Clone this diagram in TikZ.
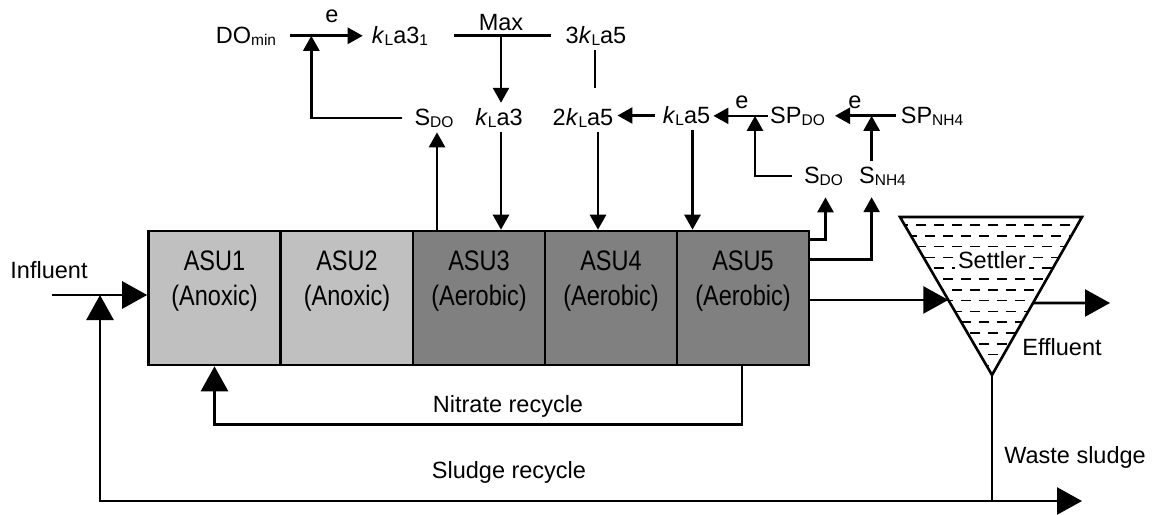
\documentclass[tikz,border=0pt]{standalone}
\usepackage{fontspec}
\setmainfont{Liberation Sans}
\usetikzlibrary{arrows.meta,calc}
\newcommand{\subtx}[1]{\raisebox{-2pt}{\fontsize{15.5}{16}\selectfont #1}}
\newcommand{\kla}{\textit{k}\subtx{L}a}
\newcommand{\tall}[1]{\scalebox{1}[1.2]{#1}}
\definecolor{anox}{HTML}{C0C0C0}
\definecolor{aero}{HTML}{808080}
\begin{document}
\begin{tikzpicture}[x=1pt,y=-1pt,
  every node/.style={font=\fontsize{23.5}{28}\selectfont, inner xsep=2pt, inner ysep=5pt},
  txt/.style={anchor=base},
  ln/.style={line width=2.6pt},
  sa/.style={ln,-{Triangle[length=15pt,width=16pt]}},
  ba/.style={ln,-{Triangle[length=25pt,width=27pt]}},
  unit/.style={draw,line width=2.6pt,minimum width=132pt,minimum height=134pt,inner sep=0pt},
  dsh/.style={line width=1.5pt,dash pattern=on 9.5pt off 8.5pt}
]
\useasboundingbox (0,0) rectangle (1153,514);

% ---- units ----
\node[unit,fill=anox] (a1) at (214.5,298) {};
\node[unit,fill=anox] (a2) at (347,298) {};
\node[unit,fill=aero] (a3) at (479,298) {};
\node[unit,fill=aero] (a4) at (611,298) {};
\node[unit,fill=aero] (a5) at (743,298) {};
\node[txt] (a1t) at (214.5,270) {\tall{ASU1}};
\node[txt] (a1s) at (214.5,305) {\tall{(Anoxic)}};
\node[txt] (a2t) at (347,270) {\tall{ASU2}};
\node[txt] (a2s) at (347,305) {\tall{(Anoxic)}};
\node[txt] (a3t) at (479,270) {\tall{ASU3}};
\node[txt] (a3s) at (479,305) {\tall{(Aerobic)}};
\node[txt] (a4t) at (611,270) {\tall{ASU4}};
\node[txt] (a4s) at (611,305) {\tall{(Aerobic)}};
\node[txt] (a5t) at (743,270) {\tall{ASU5}};
\node[txt] (a5s) at (743,305) {\tall{(Aerobic)}};

% ---- settler ----
\coordinate (stl) at (900,217);
\coordinate (str) at (1082,217);
\coordinate (stb) at (992,375);
\begin{scope}
\clip (stl) -- (str) -- (stb) -- cycle;
\foreach \i in {0,...,13} {
  \pgfmathsetmacro{\yy}{225+10.8*\i}
  \pgfmathsetmacro{\ph}{mod(\i,2)*9}
  \draw[dsh,dash phase=\ph pt] (880,\yy) -- (1100,\yy);
}
\end{scope}
\draw[ln] (stl) -- (str) -- (stb) -- cycle;
\node[txt,fill=white,inner xsep=3pt,inner ysep=3pt] (settler) at (992,268) {Settler};

% ---- top row ----
\node[txt] (domin) at (246,43) {DO\subtx{min}};
\node[txt] (e1) at (332,22) {e};
\node[txt] (kla31) at (400,43) {\kla3\subtx{1}};
\node[txt] (max) at (501,30) {Max};
\node[txt] (k3la5) at (596,43) {3\kla5};

\draw[sa] ([xshift=12pt]domin.east) -- ([xshift=-7pt]kla31.west |- domin.east);
\coordinate (j1) at ([xshift=33pt]domin.east);
\draw[ln] ([xshift=24pt]kla31.east |- domin.east) -- ([xshift=-13pt]k3la5.west |- domin.east);
\draw[ln] ([xshift=-1pt]k3la5.south) -- ++(0,38);

% ---- second row ----
\node[txt] (sdo1) at (434,125) {S\subtx{DO}};
\node[txt] (kla3) at (499,125) {\kla3};
\node[txt] (k2la5) at (583,125) {2\kla5};
\node[txt] (kla5) at (686.5,123) {\kla5};
\node[txt] (spdo) at (797.5,123) {SP\subtx{DO}};
\node[txt] (spnh) at (932,123) {SP\subtx{NH4}};
\node[txt] (sdo2) at (823.5,183) {S\subtx{DO}};
\node[txt] (snh) at (882.5,183) {S\subtx{NH4}};
\node[txt] (e2) at (742,108) {e};
\node[txt] (e3) at (855,108) {e};

\draw[sa] (max.south |- domin.east) -- (max.south |- kla3.north);
\draw[sa] (max.south |- kla3.south) -- (max.south |- a3.north);
\draw[sa] ([xshift=-10pt]sdo1.west) -| (j1);
\draw[sa] ([xshift=3pt]sdo1.south |- a3.north) -- ([xshift=3pt]sdo1.south);
\draw[sa] ([xshift=-6pt]kla5.west) -- ([xshift=2pt]k2la5.east |- kla5.west);
\draw[sa] ([xshift=15pt]k2la5.south) -- ([xshift=15pt]k2la5.south |- a4.north);
\draw[sa] ([xshift=6pt]kla5.south) -- ([xshift=6pt]kla5.south |- a5.north);
\draw[sa] (spdo.west) -- ([xshift=1pt]kla5.east |- spdo.west);
\coordinate (j2) at ([xshift=-13pt]spdo.west);
\draw[sa] ([xshift=-10pt]sdo2.west) -| (j2);
\draw[sa] ([xshift=-3pt]spnh.west) -- ([xshift=8pt]spdo.east |- spnh.west);
\coordinate (j3) at ([xshift=-27pt]spnh.west);
\draw[sa] (j3 |- snh.north) -- (j3);
\draw[sa] ($(a5.north east)+(0,10)$) -| ([xshift=2pt,yshift=-7pt]sdo2.south);
\draw[sa] ($(a5.north east)+(0,30)$) -| ([yshift=-7pt]j3 |- snh.south);

% ---- main flow ----
\path (stl) -- (stb) coordinate[pos=0.525] (sin);
\path (str) -- (stb) coordinate[pos=0.544] (sout);
\draw[ba] (a5.east |- sin) -- (sin);
\coordinate (effend) at (1110,303);
\draw[ba] (sout) -- (effend);
\node[txt] (eff) at (1062,355) {Effluent};

\coordinate (wj) at (992,501);
\coordinate (wsend) at (1082,501);
\draw[ln] (stb) -- (wj);
\draw[ba] (wj) -- (wsend);
\node[txt] (waste) at (1075,463) {Waste sludge};

\coordinate (instart) at (52,295);
\coordinate (jin) at (100,295);
\draw[ba] (instart) -- (a1.west |- instart);
\draw[ba] (wj) -| (jin);
\node[txt] (infl) at (49,278) {Influent};

\draw[ba] ([xshift=-1pt]a5.south) -- ++(0,58) -| (a1.south);
\node[txt] (nitr) at (508,412) {Nitrate recycle};
\node[txt] (sludge) at (509,478) {Sludge recycle};
\end{tikzpicture}
\end{document}
